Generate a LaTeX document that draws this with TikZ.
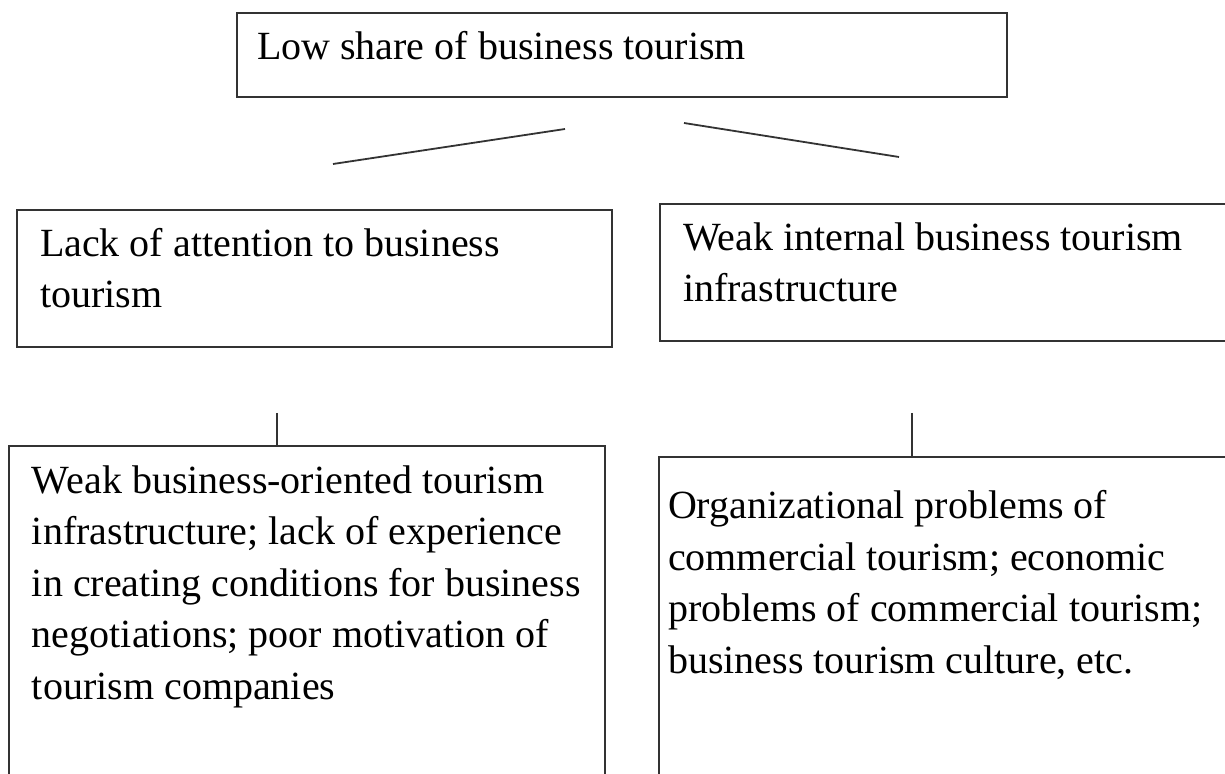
\documentclass[tikz,border=0pt]{standalone}
\usepackage{fontspec}
\setmainfont{Liberation Serif}
\begin{document}
\begin{tikzpicture}[x=0.5pt,y=-0.5pt,
  box/.style={draw=black!80, line width=1pt, inner sep=0pt, outer sep=0pt, rectangle},
  lbl/.style={anchor=base west, inner sep=0pt, outer sep=0pt, align=left, font=\fontsize{20}{25.75}\selectfont},
  link/.style={draw=black!80, line width=0.9pt}]
\clip (0,0) rectangle (1225,774);
% boxes
\node[box, minimum width=385pt, minimum height=42pt] (top) at (622,55) {};
\node[box, minimum width=297.5pt, minimum height=68.5pt] (ml) at (314.5,278.5) {};
\node[box, minimum width=290pt, minimum height=68.5pt] (mr) at (950,272.5) {};
\node[box, minimum width=298pt, minimum height=177pt] (bl) at (307,623) {};
\node[box, minimum width=290.5pt, minimum height=171.5pt] (br) at (949.5,628.5) {};
% texts (anchor = baseline of the last line)
\node[lbl] (t0) at (257,60) {Low share of business tourism};
\node[lbl] (t1) at (40,308) {Lack of attention to business\\tourism};
\node[lbl] (t2) at (683,302) {Weak internal business tourism\\infrastructure};
\node[lbl] (t3) at (32,699) {Weak business-oriented tourism\\infrastructure; lack of experience\\in creating conditions for business\\negotiations; poor motivation of\\tourism companies};
\node[lbl] (t4) at (668,673) {Organizational problems of\\commercial tourism; economic\\problems of commercial tourism;\\business tourism culture, etc.};
% connectors
\coordinate (a1) at (333,164);
\coordinate (a2) at (565,129);
\coordinate (b1) at (684,123);
\coordinate (b2) at (899,157);
\draw[link] (a1) -- (a2);
\draw[link] (b1) -- (b2);
\coordinate (v1) at (277,413);
\coordinate (v2) at (912,413);
\draw[link] (v1) -- (v1 |- bl.north);
\draw[link] (v2) -- (v2 |- br.north);
\end{tikzpicture}
\end{document}
